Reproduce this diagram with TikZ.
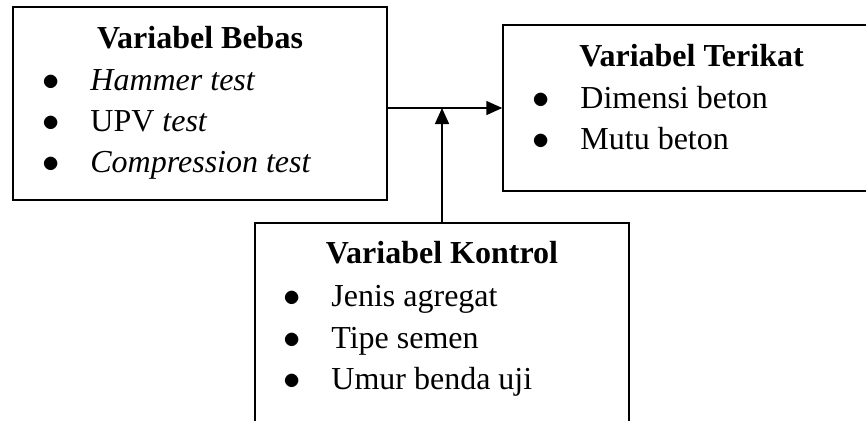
\documentclass[tikz,border=0pt]{standalone}
\usepackage{fontspec}
\setmainfont{Liberation Serif}
\usetikzlibrary{arrows.meta}

% one line of a list: bullet, then its text
\newcommand{\itm}[1]{\makebox[24pt][l]{$\bullet$}#1}

\begin{document}
\begin{tikzpicture}[x=0.5pt, y=-0.5pt, font=\fontsize{16}{20}\selectfont,
    box/.style={draw, line width=0.75pt, inner sep=0pt},
    head/.style={anchor=base, inner sep=0pt, font=\fontsize{16}{20}\selectfont\bfseries},
    txt/.style={anchor=base west, inner sep=0pt},
    conn/.style={line width=0.75pt, -{Triangle[length=8pt, width=7pt]}}]
    \clip (0,0) rectangle (866,420);

    % Draw the three boxes
    \node[box, minimum width=187pt, minimum height=96.5pt] (bebas) at (200,103.5) {};
    \node[box, minimum width=188.5pt, minimum height=83pt] (terikat) at (691.5,108) {};
    \node[box, minimum width=187pt, minimum height=100pt] (kontrol) at (442,323) {};

    % Add the headings
    \node[head] (bebasHead) at (200,48) {Variabel Bebas};
    \node[head] (terikatHead) at (691.5,66) {Variabel Terikat};
    \node[head] (kontrolHead) at (442,263) {Variabel Kontrol};

    % Add the lists
    \node[txt] (bebasA) at (42,90) {\itm{\textit{Hammer test}}};
    \node[txt] (bebasB) at (42,131) {\itm{UPV \textit{test}}};
    \node[txt] (bebasC) at (42,172) {\itm{\textit{Compression test}}};
    \node[txt] (terikatA) at (532,108) {\itm{Dimensi beton}};
    \node[txt] (terikatB) at (532,149) {\itm{Mutu beton}};
    \node[txt] (kontrolA) at (283,306) {\itm{Jenis agregat}};
    \node[txt] (kontrolB) at (283,348) {\itm{Tipe semen}};
    \node[txt] (kontrolC) at (283,389) {\itm{Umur benda uji}};

    % Add arrows
    \draw[conn] (bebas.east |- terikat.west) -- (terikat.west);
    \draw[conn] (kontrol.north) -- (kontrol.north |- terikat.west);
\end{tikzpicture}
\end{document}
